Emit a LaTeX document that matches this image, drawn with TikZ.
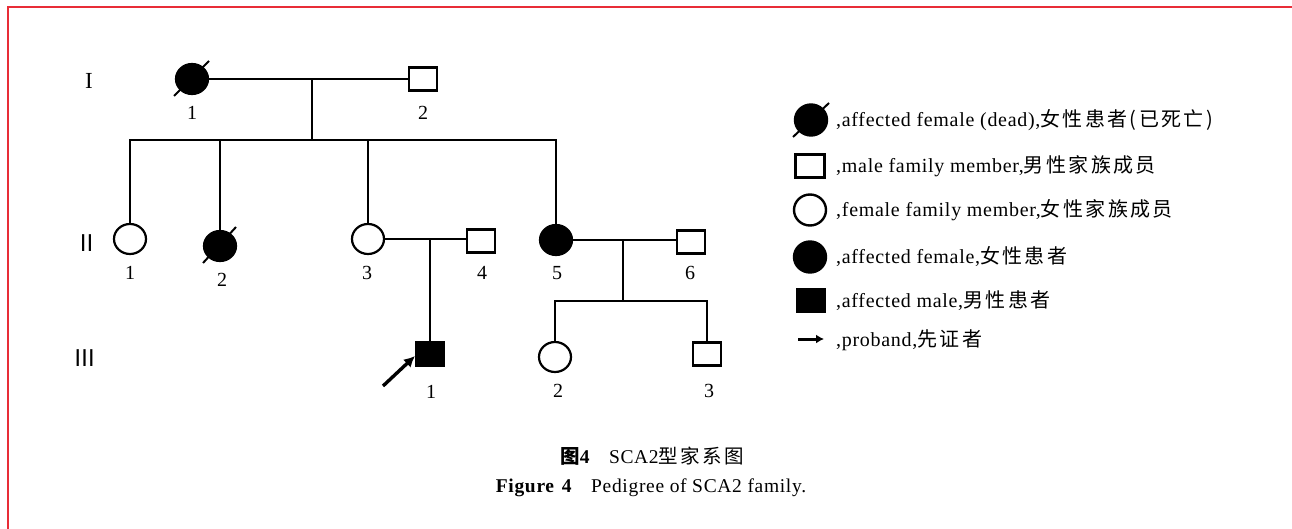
\documentclass[tikz,border=0pt]{standalone}
\usepackage{fontspec}
\setmainfont{Liberation Serif}
\newfontfamily\lat{Liberation Serif}[LetterSpace=3.5]
\newfontfamily\cjk{Noto Sans CJK SC}[LetterSpace=12]
\newfontfamily\cjkn{Noto Sans CJK SC}
\usetikzlibrary{shapes.geometric,calc,arrows.meta}
\definecolor{bordred}{RGB}{232,45,55}
\tikzset{
  fem/.style={ellipse, draw, line width=2.2pt, minimum width=32pt, minimum height=30pt, inner sep=0pt, fill=white},
  aff/.style={fem, fill=black},
  male/.style={rectangle, draw, line width=2.2pt, minimum width=28pt, minimum height=23pt, inner sep=0pt, fill=white},
  affm/.style={male, fill=black},
  lgfem/.style={fem, line width=2.4pt, minimum width=32pt, minimum height=31pt},
  lgaff/.style={lgfem, fill=black},
  lgmale/.style={male, line width=2.4pt, minimum width=29pt, minimum height=23pt},
  lgaffm/.style={male, fill=black, minimum width=30pt, minimum height=25pt, draw=none},
  ln/.style={line width=2pt},
  slashline/.style={line width=2pt, line cap=butt},
  num/.style={font=\fontsize{20pt}{22pt}\selectfont, inner sep=0pt},
  gen/.style={font=\fontsize{23pt}{26pt}\selectfont, inner sep=0pt},
  lgtext/.style={font=\fontsize{20pt}{22pt}\selectfont, inner sep=0pt, anchor=base west},
  captext/.style={font=\fontsize{19.5pt}{22pt}\selectfont, inner sep=0pt, anchor=base},
  arr/.style={line width=3.4pt, -{Latex[length=11pt,width=11pt]}},
  bord/.style={draw=bordred, line width=1.6pt}
}
\begin{document}
\begin{tikzpicture}[x=1pt,y=-1pt]
\useasboundingbox (0,0) rectangle (1292,529);
\fill[white] (0,0) rectangle (1292,529);
\draw[bord] (8,529) -- (8,7) -- (1292,7);

% generation labels
\node[gen] (g1) at (89,81) {I};
\node[gen] (g2) at (87,243) {\cjkn Ⅱ};
\node[gen] (g3) at (85,358) {\cjkn Ⅲ};

% generation I
\node[aff] (i1) at (192,79) {};
\node[male] (i2) at (423,79) {};
\draw[slashline] ($(i1)+(-18,17)$) -- ($(i1)+(17,-18)$);
\node[num] (n-i1) at (192,113) {1};
\node[num] (n-i2) at (423,113) {2};
\coordinate (m1) at (312,79);
\coordinate (s1) at (312,140);
\draw[ln] (i1) -- (i2);
\draw[ln] (m1) -- (s1);

% generation II
\node[fem] (ii1) at (130,239) {};
\node[aff] (ii2) at (220,246) {};
\draw[slashline] ($(ii2)+(-17,17)$) -- ($(ii2)+(16,-19)$);
\node[fem] (ii3) at (368,239) {};
\node[male] (ii4) at (481,241) {};
\node[aff] (ii5) at (556,240) {};
\node[male] (ii6) at (691,242) {};
\draw[ln] (s1) -| (ii1);
\draw[ln] (s1) -| (ii2);
\draw[ln] (s1) -| (ii3);
\draw[ln] (s1) -| (ii5);
\draw[ln] (ii3.east) -- (ii3.east -| ii4.west);
\draw[ln] (ii5.east) -- (ii5.east -| ii6.west);
\node[num] (n-ii1) at (130,273) {1};
\node[num] (n-ii2) at (222,280) {2};
\node[num] (n-ii3) at (367,273) {3};
\node[num] (n-ii4) at (482,273) {4};
\node[num] (n-ii5) at (557,273) {5};
\node[num] (n-ii6) at (690,273) {6};

% generation III
\node[affm] (iii1) at (430,354) {};
\node[fem] (iii2) at (555,357) {};
\node[male] (iii3) at (707,354) {};
\coordinate (m2) at (430,239);
\coordinate (m3) at (623,240);
\coordinate (s3) at (623,301);
\draw[ln] (m2) -- (iii1);
\draw[ln] (m3) -- (s3);
\draw[ln] (s3) -| (iii2);
\draw[ln] (s3) -| (iii3);
\node[num] (n-iii1) at (431,392) {1};
\node[num] (n-iii2) at (558,391) {2};
\node[num] (n-iii3) at (709,391) {3};
\coordinate (pa) at (383,386);
\coordinate (pb) at (415,356);
\draw[arr] (pa) -- (pb);

% legend
\node[lgaff] (l1) at (811,120) {};
\draw[slashline] ($(l1)+(-18,17)$) -- ($(l1)+(18,-17)$);
\node[lgtext] (t1) at (836,127) {\lat ,affected female (dead),\cjk 女性患者(已死亡)};
\node[lgmale] (l2) at (810,166) {};
\node[lgtext] (t2) at (836,173) {\lat ,male family member,\cjk 男性家族成员};
\node[lgfem] (l3) at (810,210) {};
\node[lgtext] (t3) at (836,217) {\lat ,female family member,\cjk 女性家族成员};
\node[lgaff] (l4) at (810,257) {};
\node[lgtext] (t4) at (836,264) {\lat ,affected female,\cjk 女性患者};
\node[lgaffm] (l5) at (811,300) {};
\node[lgtext] (t5) at (836,307) {\lat ,affected male,\cjk 男性患者};
\coordinate (la) at (798,339);
\coordinate (lb) at (824,339);
\draw[line width=3pt, -{Latex[length=8pt,width=9pt]}] (la) -- (lb);
\node[lgtext] (t6) at (836,346) {\lat ,proband,\cjk 先证者};

% caption
\node[captext] (c1) at (652,463) {{\cjkn\bfseries 图}{\lat\bfseries 4}\quad{\lat SCA2}{\cjk 型家系图}};
\node[captext] (c2) at (651,492) {{\lat\bfseries Figure\hspace{0.4em}4}\quad{\lat Pedigree of SCA2 family.}};
\end{tikzpicture}
\end{document}
